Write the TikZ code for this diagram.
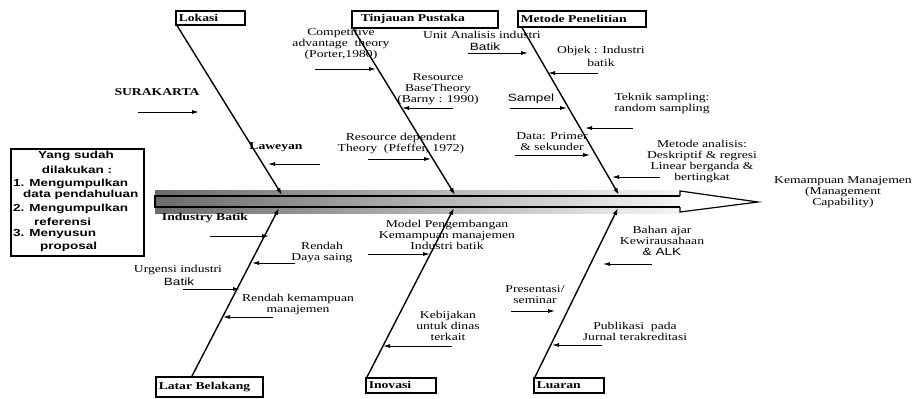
\documentclass[tikz,border=0pt]{standalone}
\usepackage{fontspec}
\setmainfont{Liberation Serif}[FakeStretch=1.3]
\newfontfamily\lsans{Liberation Sans}[FakeStretch=1.3]
\newfontfamily\lsansb{Liberation Sans Bold}[FakeStretch=1.32]
\usetikzlibrary{arrows.meta,calc}
\begin{document}
\begin{tikzpicture}[x=1pt,y=-1pt,
  lbl/.style={inner sep=0pt, align=center, font=\fontsize{10.5}{11}\selectfont},
  slbl/.style={inner sep=0pt, align=center, font=\lsans\fontsize{10.5}{11}\selectfont},
  blbl/.style={inner sep=0pt, font=\bfseries\fontsize{10.5}{11}\selectfont},
  kbl/.style={inner sep=0pt, font=\lsansb\fontsize{10.2}{11}\selectfont},
  catbox/.style={draw, line width=1.5pt, anchor=north west, inner xsep=3pt, inner ysep=0pt,
     align=left, font=\bfseries\fontsize{10.5}{11}\selectfont},
  bone/.style={line width=1.4pt, -{Latex[length=7pt,width=4.5pt]}},
  rib/.style={line width=0.9pt, -{Latex[length=7pt,width=4pt]}}
]
\useasboundingbox (0,0) rectangle (914,399);

% central arrow
\shade[left color=black!58, right color=white] (155,190) rectangle (720,213);
\draw[line width=1.2pt, fill=white] (680,196) -- (680,191) -- (758,202) -- (680,212) -- (680,207);
\draw[line width=1.2pt] (680,196) -- (155,196) -- (155,207) -- (680,207);

\coordinate (j1) at (282,195);
\coordinate (j2) at (455,195);
\coordinate (j3) at (619,195);
\coordinate (j4) at (279,208);
\coordinate (j5) at (454,208);
\coordinate (j6) at (618,208);

% category boxes
\node[catbox, text width=63pt, minimum height=14pt] (lok) at (175,10) {Lokasi};
\node[catbox, text width=140pt, minimum height=17pt] (tin) at (351,10) {\hspace*{6pt}Tinjauan Pustaka};
\node[catbox, text width=122pt, minimum height=16pt] (met) at (517,10) {Metode Penelitian};
\node[catbox, text width=101pt, minimum height=20pt] (lat) at (155,376) {Latar Belakang};
\node[catbox, text width=64pt, minimum height=15pt] (ino) at (365,377) {Inovasi};
\node[catbox, text width=64pt, minimum height=15pt] (lua) at (533,377) {Luaran};

% bones
\draw[bone] ($(lok.south west)+(2,0)$) -- (j1);
\draw[bone] ($(tin.south west)+(2,0)$) -- (j2);
\draw[bone] ($(met.south west)+(5,0)$) -- (j3);
\draw[bone] ($(lat.north west)+(37,0)$) -- (j4);
\draw[bone] ($(ino.north west)+(2,0)$) -- (j5);
\draw[bone] ($(lua.north west)+(2,0)$) -- (j6);

% left box
\draw[line width=1.5pt] (11,149) rectangle (144,256);
\node[kbl] (y1) at (76,156) {Yang sudah};
\node[kbl] (y2) at (77,170) {dilakukan :};
\node[kbl, anchor=west] (y3) at (13,184) {1. Mengumpulkan};
\node[kbl, anchor=west] (y4) at (23,195) {data pendahuluan};
\node[kbl, anchor=west] (y5) at (13,209) {2. Mengumpulkan};
\node[kbl, anchor=west] (y6) at (34,222) {referensi};
\node[kbl, anchor=west] (y7) at (13,234) {3. Menyusun};
\node[kbl, anchor=west] (y8) at (40,247) {proposal};

% Lokasi ribs
\node[blbl] (sur) at (157,92) {SURAKARTA};
\coordinate (s1) at (138,112); \coordinate (s2) at (199,112);
\draw[rib] (s1) -- (s2);
\node[blbl] (law) at (276,147) {Laweyan};
\coordinate (l1) at (320,164); \coordinate (l2) at (268,164);
\draw[rib] (l1) -- (l2);

% Tinjauan ribs
\node[lbl] (comp) at (341,44) {Competitive\\advantage \ theory\\(Porter,1980)};
\coordinate (c1) at (315,69); \coordinate (c2) at (376,69);
\draw[rib] (c1) -- (c2);
\node[lbl] (rbt) at (438,89) {Resource\\BaseTheory\\(Barny : 1990)};
\coordinate (r1) at (453,108); \coordinate (r2) at (402,108);
\draw[rib] (r1) -- (r2);
\node[lbl] (rdt) at (401,143.5) {Resource dependent\\Theory \ (Pfeffer, 1972)};
\coordinate (d1) at (368,159); \coordinate (d2) at (431,159);
\draw[rib] (d1) -- (d2);

% Metode ribs
\node[lbl] (unit) at (482,35) {Unit Analisis industri};
\node[slbl] (bat1) at (485,47) {Batik};
\coordinate (u1) at (468,53); \coordinate (u2) at (528,53);
\draw[rib] (u1) -- (u2);
\node[lbl, font=\fontsize{10.5}{12.5}\selectfont] (obj) at (601,56.5) {Objek : Industri\\batik};
\coordinate (o1) at (598,73); \coordinate (o2) at (548,73);
\draw[rib] (o1) -- (o2);
\node[slbl] (samp) at (531,99) {Sampel};
\coordinate (p1) at (510,108); \coordinate (p2) at (567,108);
\draw[rib] (p1) -- (p2);
\node[lbl] (tek) at (662,103.5) {Teknik sampling:\\random sampling};
\coordinate (t1) at (633,128); \coordinate (t2) at (585,128);
\draw[rib] (t1) -- (t2);
\node[lbl] (data) at (552,142) {Data: Primer\\\& sekunder};
\coordinate (a1) at (515,155); \coordinate (a2) at (590,155);
\draw[rib] (a1) -- (a2);
\node[lbl] (ana) at (702,161.5) {Metode analisis:\\Deskriptif \& regresi\\Linear berganda \&\\bertingkat};
\coordinate (m1) at (660,177); \coordinate (m2) at (612,177);
\draw[rib] (m1) -- (m2);

% effect
\node[lbl] (eff) at (843,192) {Kemampuan Manajemen\\(Management\\Capability)};

% Latar Belakang ribs
\node[blbl] (ib) at (205,218) {Industry Batik};
\coordinate (i1) at (210,236); \coordinate (i2) at (269,236);
\draw[rib] (i1) -- (i2);
\node[lbl] (rds) at (322,252.5) {Rendah\\Daya saing};
\coordinate (e1) at (295,263); \coordinate (e2) at (252,263);
\draw[rib] (e1) -- (e2);
\node[lbl] (urg) at (178,270) {Urgensi industri};
\node[slbl] (bat2) at (179,282) {Batik};
\coordinate (g1) at (183,289); \coordinate (g2) at (240,289);
\draw[rib] (g1) -- (g2);
\node[lbl] (rkm) at (298,304.5) {Rendah kemampuan\\manajemen};
\coordinate (k1) at (273,317); \coordinate (k2) at (223,317);
\draw[rib] (k1) -- (k2);

% Inovasi ribs
\node[lbl] (mod) at (447,234.5) {Model Pengembangan\\Kemampuan manajemen\\Industri batik};
\coordinate (n1) at (368,254); \coordinate (n2) at (430,254);
\draw[rib] (n1) -- (n2);
\node[lbl] (keb) at (448,325.5) {Kebijakan\\untuk dinas\\terkait};
\coordinate (b1) at (452,346); \coordinate (b2) at (383,346);
\draw[rib] (b1) -- (b2);

% Luaran ribs
\node[lbl] (pre) at (535,294.5) {Presentasi/\\seminar};
\coordinate (q1) at (511,311); \coordinate (q2) at (555,311);
\draw[rib] (q1) -- (q2);
\node[lbl] (bah) at (662,240.5) {Bahan ajar\\Kewirausahaan\\{\lsans\& ALK}};
\coordinate (h1) at (652,264); \coordinate (h2) at (603,264);
\draw[rib] (h1) -- (h2);
\node[lbl] (pub) at (635,331) {Publikasi \ pada\\Jurnal terakreditasi};
\coordinate (v1) at (602,345); \coordinate (v2) at (552,345);
\draw[rib] (v1) -- (v2);
\end{tikzpicture}
\end{document}
